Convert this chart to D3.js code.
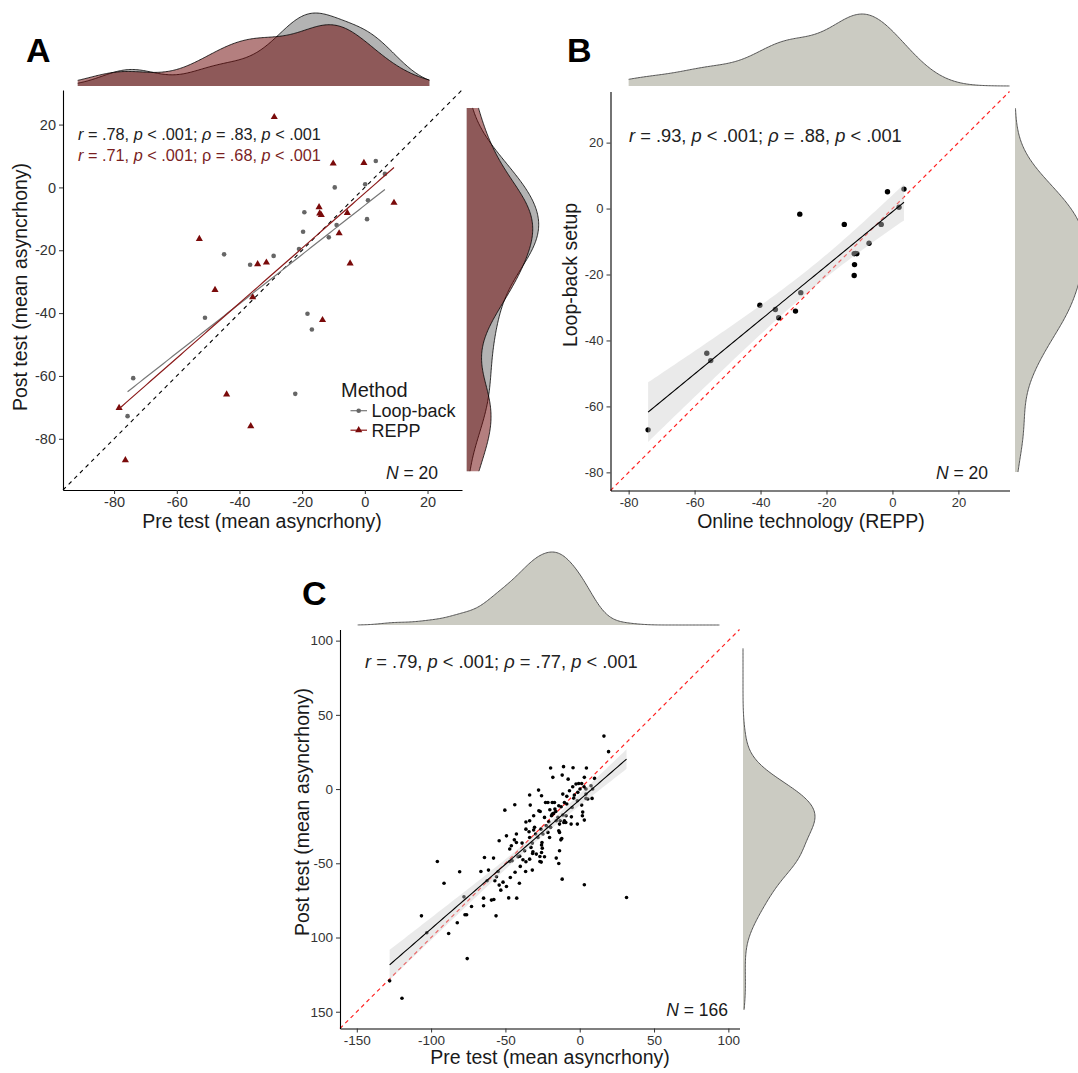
<!DOCTYPE html>
<html><head><meta charset="utf-8">
<script src="https://cdn.jsdelivr.net/npm/d3@7"></script>
<style>body{margin:0;background:#fff;} svg text{font-family:"Liberation Sans",Arial,Helvetica,sans-serif;}</style>
</head><body>
<svg id="c" width="1078" height="1073"></svg>
<script>
// ---------------- DATA ----------------
// Panel A: Pre vs Post, by method
const methods = ["Loop-back", "REPP"];
const aLoopPre  = [3.5, 6.4, 0.1, -9.6, 1.0, -19.3, 0.7, -9.0, -19.7, -11.5, -21.0, -44.9, -29.1, -36.6, -51.0, -18.3, -16.9, -73.9, -22.2, -75.7];
const aLoopPost = [8.4, 4.3, 1.0, 0.0, -4.1, -7.9, -10.1, -12.0, -14.1, -15.9, -19.6, -21.3, -21.8, -24.6, -41.5, -40.2, -45.2, -60.7, -65.7, -72.8];
const aReppPre  = [-28.9, -10.1, -0.3, 9.3, -14.6, -14.4, -13.9, -5.6, -8.2, -52.8, -34.2, -31.4, -4.7, -47.8, -35.8, -13.5, -44.1, -36.4, -78.4, -76.4];
const aReppPost = [22.4, 7.6, 7.8, -4.9, -6.3, -8.3, -8.8, -8.1, -14.6, -16.4, -24.4, -23.9, -24.2, -32.6, -34.9, -42.2, -65.9, -76.0, -70.2, -86.8];

// Panel B: Online technology (REPP) vs Loop-back setup
const bRepp = [-74.1, -56.3, -55.1, -40.2, -35.5, -34.5, -29.4, -27.8, -28.1, -14.6, -11.6, -10.8, -11.5, -11.6, -7.1, -3.4, -1.5, 2.0, 3.5, -11.2];
const bLoop = [-67.1, -43.9, -46.1, -29.3, -30.6, -33.1, -31.1, -25.5, -1.7, -4.8, -13.7, -13.7, -17.0, -20.3, -10.5, -4.8, 5.1, 0.4, 5.9, -13.6];

// Panel C: Pre vs Post (N = 166)
const cPre = [16.3,19.4,-19.6,-10.9,-4.5,4.5,-18.1,-11.8,-7.8,3.1,10.0,-4.7,-2.5,-0.7,1.3,2.9,4.2,7.6,8.7,0.2,
 -27.7,-25.7,-33.7,-23.0,-21.4,-18.5,-11.4,-8.7,-3.6,-4.0,-10.3,-1.6,1.3,4.2,5.4,8.3,-43.7,-33.3,-50.4,-27.5,
 -26.6,-20.1,-16.7,-16.1,-14.1,-12.5,-8.7,-5.1,2.0,1.8,3.1,-1.6,-5.6,-9.2,-11.4,-13.2,-10.7,-9.4,-14.7,-17.6,
 -19.0,-19.6,-20.8,-23.7,-31.0,-36.2,-36.2,-34.1,-31.0,-30.4,-26.1,-21.4,-13.6,-14.1,-13.6,-12.1,-12.7,-13.6,-15.8,-14.1,
 -11.8,3.1,31.5,
 -49.3,-54.2,-44.0,-42.6,-46.0,-47.1,-38.8,-33.7,-31.9,-32.8,-29.7,-25.4,-25.7,-25.2,-25.7,-31.7,-31.5,-38.2,-40.4,-41.5,
 -45.5,-47.1,-26.8,-23.7,-26.8,-25.9,-31.9,-36.2,-36.4,-40.0,-43.5,-46.7,-40.6,-49.3,-51.6,-54.2,-53.1,-54.9,-56.0,-57.1,
 -61.4,-64.1,-58.0,-66.5,-62.3,-64.7,-64.7,-57.8,-59.4,-56.3,-47.8,-42.4,-72.8,-76.1,-77.2,-77.9,-80.8,-91.3,-95.8,-106.5,
 -102.9,-88.2,-82.4,-75.7,-119.6,-127.9,
 -18.5,-15.8,-24.8,-28.1,-20.3,-33.7,-6.9,-1.3,-5.8,-29.2,-37.1,-42.6,-17.0,-10.3,-22.5,4.2,-33.7];
const cPost = [35.7,25.2,14.2,15.1,14.4,14.2,7.9,9.4,6.7,7.9,7.2,1.6,3.4,3.8,3.8,1.6,0,2.2,0,0,
 -0.7,-4.5,-4.0,-9.0,-9.0,-9.0,-3.4,-4.9,-4.0,-6.1,-9.0,-7.9,-10.8,-6.3,-6.7,-6.3,-10.6,-10.8,-14.2,-14.6,
 -15.1,-13.9,-13.5,-15.1,-11.2,-11.9,-10.1,-12.4,-15.5,-18.0,-20.9,-23.6,-18.7,-18.0,-17.5,-21.3,-22.5,-22.5,-19.1,-16.4,
 -18.0,-25.8,-22.0,-19.1,-18.0,-22.2,-27.0,-28.8,-27.6,-25.8,-27.0,-29.2,-23.6,-28.1,-29.2,-33.3,-34.2,-41.6,-46.5,-50.1,
 -60.7,-64.5,-73.0,
 -31.5,-34.8,-34.2,-36.0,-38.2,-40.4,-36.4,-32.6,-36.4,-39.3,-30.3,-36.0,-37.7,-39.8,-42.7,-43.4,-42.2,-47.6,-45.2,-45.6,
 -48.3,-48.8,-45.4,-45.6,-48.8,-49.2,-54.6,-49.0,-55.5,-52.1,-56.0,-59.6,-63.4,-65.6,-62.7,-64.7,-68.1,-55.5,-59.1,-61.8,
 -54.6,-46.1,-46.5,-55.5,-61.8,-73.5,-78.6,-74.4,-74.8,-85.4,-73.3,-73.5,-79.1,-84.7,-84.7,-72.6,-55.7,-63.4,-48.8,-85.4,
 -96.8,-97.3,-90.1,-114.2,-140.9,-129.2,
 -16.9,-21.3,-30.3,-32.6,-32.6,-21.3,-1.1,-2.2,-23.6,-43.8,-41.6,-30.3,-9.0,-21.3,-24.7,-3.4,-47.2];

// Ticks
const abTicks = [-80, -60, -40, -20, 0, 20];
const abTickLabels = ["-80", "-60", "-40", "-20", "0", "20"];
const cTicks = [-150, -100, -50, 0, 50, 100];
const cXTickLabels = ["-150", "-100", "-50", "0", "50", "100"];
const cYTickLabels = ["150", "100", "-50", "0", "50", "100"];

// Texts
const statA1 = [["r", 1], [" = .78, ", 0], ["p", 1], [" < .001; ", 0], ["ρ", 1], [" = .83, ", 0], ["p", 1], [" < .001", 0]];
const statA2 = [["r", 1], [" = .71, ", 0], ["p", 1], [" < .001; ρ = .68, ", 0], ["p", 1], [" < .001", 0]];
const statB  = [["r", 1], [" = .93, ", 0], ["p", 1], [" < .001; ", 0], ["ρ", 1], [" = .88, ", 0], ["p", 1], [" < .001", 0]];
const statC  = [["r", 1], [" = .79, ", 0], ["p", 1], [" < .001; ", 0], ["ρ", 1], [" = .77, ", 0], ["p", 1], [" < .001", 0]];

// ---------------- HELPERS ----------------
const svg = d3.select("#c");
const TXT = "#1a1a1a";

function kde(values, lo, hi, adjust) {
  const n = values.length;
  const s = values.slice().sort(d3.ascending);
  const sd = d3.deviation(s);
  const iqr = d3.quantile(s, 0.75) - d3.quantile(s, 0.25);
  const bw = 0.9 * Math.min(sd, iqr / 1.34) * Math.pow(n, -0.2) * adjust;
  const grid = d3.range(0, 257).map(i => lo + (hi - lo) * i / 256);
  return grid.map(g => [g, d3.mean(s, v => Math.exp(-0.5 * ((g - v) / bw) ** 2)) / (bw * Math.sqrt(2 * Math.PI))]);
}
function fit(xs, ys) {
  const mx = d3.mean(xs), my = d3.mean(ys);
  let sxx = 0, sxy = 0;
  xs.forEach((x, i) => { sxx += (x - mx) ** 2; sxy += (x - mx) * (ys[i] - my); });
  const b = sxy / sxx, a = my - b * mx;
  let sse = 0;
  xs.forEach((x, i) => { sse += (ys[i] - a - b * x) ** 2; });
  const n = xs.length, df = n - 2, z = 1.959964;
  const t = z + (z ** 3 + z) / (4 * df) + (5 * z ** 5 + 16 * z ** 3 + 3 * z) / (96 * df * df);
  return { a, b, mx, sxx, s: Math.sqrt(sse / df), n, t, lo: d3.min(xs), hi: d3.max(xs) };
}
function axes(x, y, box, xt, xl, yt, yl, fs) {
  const gx = svg.append("g").attr("transform", `translate(0,${box.y1})`)
    .call(d3.axisBottom(x).tickValues(xt).tickFormat((d, i) => xl[i]).tickSize(4).tickSizeOuter(0).tickPadding(3));
  const gy = svg.append("g").attr("transform", `translate(${box.x0},0)`)
    .call(d3.axisLeft(y).tickValues(yt).tickFormat((d, i) => yl[i]).tickSize(4).tickSizeOuter(0).tickPadding(3));
  [gx, gy].forEach(g => {
    g.select(".domain").attr("stroke", "#000").attr("stroke-width", 1.1);
    g.selectAll(".tick line").attr("stroke", "#333").attr("stroke-width", 1);
    g.selectAll(".tick text").attr("fill", "#333").style("font-size", fs + "px");
  });
}
function stat(xp, yp, parts, color, size) {
  const t = svg.append("text").attr("x", xp).attr("y", yp).attr("fill", color).style("font-size", size + "px");
  parts.forEach(p => t.append("tspan").text(p[0]).style("font-style", p[1] ? "italic" : "normal"));
}
function nLabel(xp, yp, num) {
  const t = svg.append("text").attr("x", xp).attr("y", yp).attr("text-anchor", "end").attr("fill", TXT).style("font-size", "17.5px");
  t.append("tspan").text("N").style("font-style", "italic");
  t.append("tspan").text(" = " + num);
}
function titleText(xp, yp, txt, rot) {
  svg.append("text").attr("transform", `translate(${xp},${yp}) rotate(${rot})`).attr("text-anchor", "middle")
    .attr("fill", TXT).style("font-size", "19.5px").text(txt);
}
function letter(xp, yp, txt) {
  svg.append("text").attr("x", xp).attr("y", yp).attr("fill", "#000").style("font-size", "34px").style("font-weight", "bold").text(txt);
}
function topDensity(x, dens, base, h, maxD, fill, stroke, sw) {
  const yy = d => base - d / maxD * h;
  svg.append("path").attr("d", d3.area().x(d => x(d[0])).y0(base).y1(d => yy(d[1])).curve(d3.curveBasis)(dens)).attr("fill", fill);
  svg.append("path").attr("d", d3.line().x(d => x(d[0])).y(d => yy(d[1])).curve(d3.curveBasis)(dens)).attr("fill", "none").attr("stroke", stroke).attr("stroke-width", sw);
}
function rightDensity(y, dens, base, w, maxD, fill, stroke, sw) {
  const xx = d => base + d / maxD * w;
  svg.append("path").attr("d", d3.area().y(d => y(d[0])).x0(base).x1(d => xx(d[1])).curve(d3.curveBasis)(dens)).attr("fill", fill);
  svg.append("path").attr("d", d3.line().y(d => y(d[0])).x(d => xx(d[1])).curve(d3.curveBasis)(dens)).attr("fill", "none").attr("stroke", stroke).attr("stroke-width", sw);
}
function smooth(x, y, f, withBand) {
  const xs = d3.range(0, 81).map(i => f.lo + (f.hi - f.lo) * i / 80);
  const pts = xs.map(v => {
    const yh = f.a + f.b * v;
    const se = f.s * Math.sqrt(1 / f.n + (v - f.mx) ** 2 / f.sxx);
    return [v, yh, yh - f.t * se, yh + f.t * se];
  });
  if (withBand) svg.append("path").attr("d", d3.area().x(d => x(d[0])).y0(d => y(d[2])).y1(d => y(d[3]))(pts))
    .attr("fill", "rgb(205,205,205)").attr("fill-opacity", 0.42);
  return pts;
}

// ---------------- PANEL A ----------------
{
  const box = { x0: 63, x1: 462, y0: 90, y1: 490 };
  const dom = [-96.3, 31];
  const x = d3.scaleLinear().domain(dom).range([box.x0, box.x1]);
  const y = d3.scaleLinear().domain(dom).range([box.y1, box.y0]);
  const grey = "#666666", red = "#7a0a0a";

  const tL = kde(aLoopPre, -91.6, 20.6, 1), tR = kde(aReppPre, -91.6, 20.6, 1);
  const mT = d3.max(tL.concat(tR), d => d[1]);
  topDensity(x, tL, 86, 73, mT, "#b3b3b3", "#000", 0.8);
  topDensity(x, tR, 86, 73, mT, "rgba(105,0,0,0.5)", "#000", 0.8);
  const rL = kde(aLoopPost, -90.3, 25.3, 1), rR = kde(aReppPost, -90.3, 25.3, 1);
  const mR = d3.max(rL.concat(rR), d => d[1]);
  rightDensity(y, rL, 466.7, 72, mR, "#b3b3b3", "#000", 0.8);
  rightDensity(y, rR, 466.7, 72, mR, "rgba(105,0,0,0.5)", "#000", 0.8);

  svg.append("line").attr("x1", x(dom[0])).attr("y1", y(dom[0])).attr("x2", x(dom[1])).attr("y2", y(dom[1]))
    .attr("stroke", "#000").attr("stroke-width", 1.1).attr("stroke-dasharray", "4,4");

  svg.append("g").selectAll("circle").data(aLoopPre).join("circle")
    .attr("cx", d => x(d)).attr("cy", (d, i) => y(aLoopPost[i])).attr("r", 2.3).attr("fill", grey);
  svg.append("g").selectAll("path").data(aReppPre).join("path")
    .attr("d", d3.symbol(d3.symbolTriangle, 22)())
    .attr("transform", (d, i) => `translate(${x(d)},${y(aReppPost[i])})`).attr("fill", red);

  const fL = fit(aLoopPre, aLoopPost), fR = fit(aReppPre, aReppPost);
  const pL = smooth(x, y, fL, false), pR = smooth(x, y, fR, false);
  svg.append("path").attr("d", d3.line().x(d => x(d[0])).y(d => y(d[1]))(pL)).attr("stroke", "#777").attr("stroke-width", 1.2).attr("fill", "none");
  svg.append("path").attr("d", d3.line().x(d => x(d[0])).y(d => y(d[1]))(pR)).attr("stroke", "#8b1a1a").attr("stroke-width", 1.2).attr("fill", "none");

  axes(x, y, box, abTicks, abTickLabels, abTicks, abTickLabels, 14.5);
  stat(78, 139.5, statA1, "#222", 16.3);
  stat(78, 160.5, statA2, "#7a1f1f", 16.3);
  nLabel(438, 478.5, "20");

  svg.append("text").attr("x", 341).attr("y", 397).attr("fill", TXT).style("font-size", "20px").text("Method");
  const lc = [grey, red];
  methods.forEach((m, i) => {
    const yy = 410.7 + i * 19.5;
    svg.append("line").attr("x1", 350.5).attr("x2", 367).attr("y1", yy).attr("y2", yy).attr("stroke", i ? "#8b1a1a" : "#777").attr("stroke-width", 1.2);
    if (i === 0) svg.append("circle").attr("cx", 358.7).attr("cy", yy).attr("r", 2.3).attr("fill", lc[i]);
    else svg.append("path").attr("d", d3.symbol(d3.symbolTriangle, 22)()).attr("transform", `translate(358.7,${yy})`).attr("fill", lc[i]);
    svg.append("text").attr("x", 371.5).attr("y", yy + 6.3).attr("fill", TXT).style("font-size", "18px").text(m);
  });

  titleText(262, 528, "Pre test (mean asyncrhony)", 0);
  titleText(26.5, 287, "Post test (mean asyncrhony)", -90);
  letter(26, 62, "A");
}

// ---------------- PANEL B ----------------
{
  const box = { x0: 610.5, x1: 1009.5, y0: 91.5, y1: 490.5 };
  const dom = [-85.5, 35.5];
  const x = d3.scaleLinear().domain(dom).range([box.x0, box.x1]);
  const y = d3.scaleLinear().domain(dom).range([box.y1, box.y0]);
  const dfill = "#cbcbc2", dline = "#555";

  const t = kde(bRepp, -80, 35.5, 1.0);
  topDensity(x, t, 86, 72, d3.max(t, d => d[1]), dfill, dline, 1);
  const r = kde(bLoop, -79.9, 30.4, 1.0);
  rightDensity(y, r, 1015, 70, d3.max(r, d => d[1]), dfill, dline, 1);

  svg.append("line").attr("x1", x(dom[0])).attr("y1", y(dom[0])).attr("x2", x(dom[1])).attr("y2", y(dom[1]))
    .attr("stroke", "#f22").attr("stroke-width", 1.2).attr("stroke-dasharray", "4,3.5");
  svg.append("g").selectAll("circle").data(bRepp).join("circle")
    .attr("cx", d => x(d)).attr("cy", (d, i) => y(bLoop[i])).attr("r", 2.7).attr("fill", "#000");
  const f = fit(bRepp, bLoop);
  const p = smooth(x, y, f, true);
  svg.append("path").attr("d", d3.line().x(d => x(d[0])).y(d => y(d[1]))(p)).attr("stroke", "#000").attr("stroke-width", 1.1).attr("fill", "none");

  axes(x, y, box, abTicks, abTickLabels, abTicks, abTickLabels, 13);
  stat(629, 141.5, statB, "#222", 18.3);
  nLabel(988, 478.5, "20");
  titleText(811, 528, "Online technology (REPP)", 0);
  titleText(577, 275, "Loop-back setup", -90);
  letter(567, 62, "B");
}

// ---------------- PANEL C ----------------
{
  const box = { x0: 340, x1: 739.5, y0: 629.5, y1: 1028.5 };
  const dom = [-161.3, 107.5];
  const x = d3.scaleLinear().domain(dom).range([box.x0, box.x1]);
  const y = d3.scaleLinear().domain(dom).range([box.y1, box.y0]);
  const dfill = "#cbcbc2", dline = "#555";

  const t = kde(cPre, -149.4, 94, 1.1);
  topDensity(x, t, 625, 73, d3.max(t, d => d[1]), dfill, dline, 1);
  const r = kde(cPost, -148.6, 94.8, 1.1);
  rightDensity(y, r, 743, 72, d3.max(r, d => d[1]), dfill, dline, 1);

  svg.append("line").attr("x1", x(dom[0])).attr("y1", y(dom[0])).attr("x2", x(dom[1])).attr("y2", y(dom[1]))
    .attr("stroke", "#f22").attr("stroke-width", 1.2).attr("stroke-dasharray", "4,3.5");
  svg.append("g").selectAll("circle").data(cPre).join("circle")
    .attr("cx", d => x(d)).attr("cy", (d, i) => y(cPost[i])).attr("r", 1.8).attr("fill", "#000");
  const f = fit(cPre, cPost);
  const p = smooth(x, y, f, true);
  svg.append("path").attr("d", d3.line().x(d => x(d[0])).y(d => y(d[1]))(p)).attr("stroke", "#000").attr("stroke-width", 1.1).attr("fill", "none");

  axes(x, y, box, cTicks, cXTickLabels, cTicks, cYTickLabels, 13.5);
  stat(365, 668, statC, "#222", 18.3);
  nLabel(728, 1015.5, "166");
  titleText(550, 1064, "Pre test (mean asyncrhony)", 0);
  titleText(309, 812, "Post test (mean asyncrhony)", -90);
  letter(302, 605, "C");
}
</script>
</body></html>
